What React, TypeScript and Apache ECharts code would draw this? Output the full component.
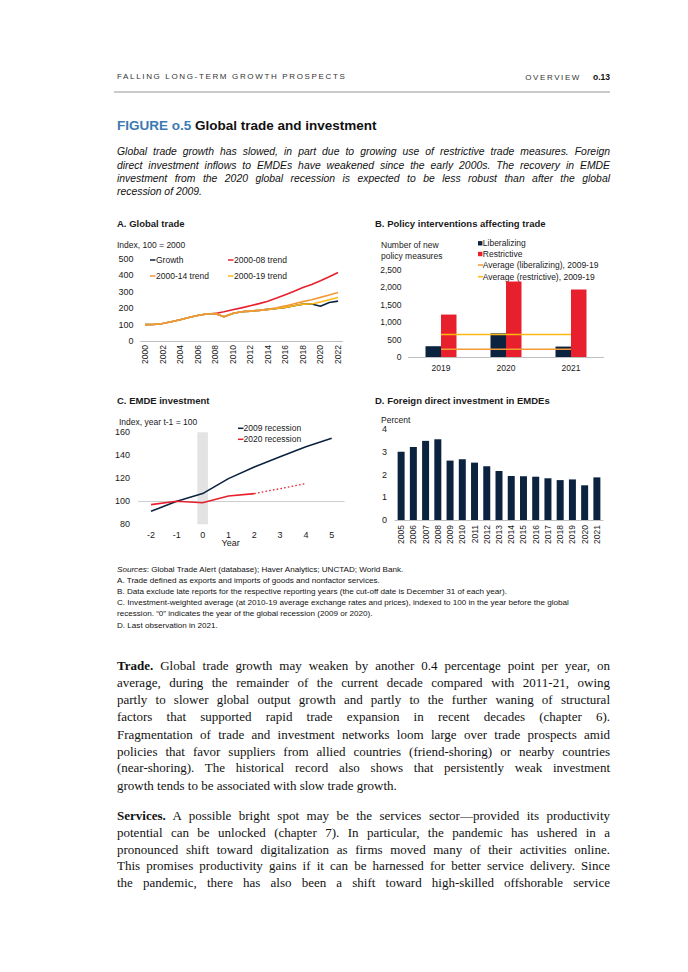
import React, { useEffect, useRef } from "react";
import * as echarts from "echarts";

// ---------- DATA ----------
const yearsA = ["2000","2001","2002","2003","2004","2005","2006","2007","2008","2009","2010","2011","2012","2013","2014","2015","2016","2017","2018","2019","2020","2021","2022"];
const growth = [100,101,107,117,130,143,155,165,168,148,168,178,182,187,193,198,205,215,225,226,212,235,243];
const trend0008 = [null,null,null,null,null,null,null,null,168,178,190,202,215,228,243,262,282,303,326,345,368,392,418];
const trend0014 = [100,101,107,117,130,143,155,165,168,148,168,178,182,187,193,203,214,227,240,252,266,281,296];
const trend0019 = [100,101,107,117,130,143,155,165,168,148,168,178,182,187,193,198,205,215,225,226,238,251,265];

const yearsB = ["2019","2020","2021"];
const liberalizing = [310,680,300];
const restrictive = [1220,2170,1940];
const avgLiberalizing = [220,220,220];
const avgRestrictive = [650,650,650];

const yearsC = ["-2","-1","0","1","2","3","4","5"];
const rec2009 = [91.3,100,106.7,119.7,129.9,138.8,147.5,154.8];
const rec2020 = [97.1,100,98.8,104.6,106.7,null,null,null];
const rec2020f = [null,null,null,null,106.7,111,115.4,null];
const recessionShade = [null,null,160,null,null,null,null,null];

const yearsD = ["2005","2006","2007","2008","2009","2010","2011","2012","2013","2014","2015","2016","2017","2018","2019","2020","2021"];
const fdi = [3.01,3.22,3.49,3.56,2.62,2.68,2.53,2.37,2.16,1.94,1.93,1.91,1.84,1.76,1.79,1.53,1.88];

// ---------- STYLE ----------
const NAVY = "#0c2340";
const RED = "#e8202e";
const ORANGE = "#f39a36";
const YELLOW = "#fdb813";
const AXIS = "#bfbfbf";
const TXT = "#1a1a1a";
const FONT = "Liberation Sans";

function T(x: number, y: number, text: string, size = 8.5, weight = "normal", align = "left") {
  return {
    type: "text",
    x,
    y,
    silent: true,
    style: {
      text,
      fill: TXT,
      fontSize: size,
      fontFamily: FONT,
      fontWeight: weight,
      align,
      textAlign: align,
      verticalAlign: "middle",
      textVerticalAlign: "middle",
    },
  };
}
function Dash(x1: number, x2: number, y: number, color: string) {
  return { type: "line", silent: true, shape: { x1, y1: y, x2, y2: y }, style: { stroke: color, lineWidth: 1.5 } };
}
function Sq(x: number, y: number, color: string) {
  return { type: "rect", silent: true, shape: { x, y: y - 2.2, width: 4.4, height: 4.4 }, style: { fill: color } };
}

const catAxisBase = {
  type: "category",
  boundaryGap: true,
  axisLine: { lineStyle: { color: AXIS, width: 1 } },
  axisTick: { show: false },
};
const valAxisBase = {
  type: "value",
  splitLine: { show: false },
  axisLine: { show: false },
  axisTick: { show: false },
};

const optionA = {
  animation: false,
  textStyle: { fontFamily: FONT },
  grid: { left: 30.6, top: 47, width: 201.8, height: 82 },
  xAxis: { ...catAxisBase, data: yearsA, axisLabel: { rotate: 90, interval: 1, fontSize: 8.5, color: TXT, margin: 4 } },
  yAxis: { ...valAxisBase, min: 0, max: 500, interval: 100, axisLabel: { fontSize: 9, color: TXT, margin: 7 } },
  series: [
    { name: "Growth", type: "line", data: growth, symbol: "none", lineStyle: { color: NAVY, width: 1.6 }, itemStyle: { color: NAVY } },
    { name: "2000-08 trend", type: "line", data: trend0008, symbol: "none", lineStyle: { color: RED, width: 1.6 }, itemStyle: { color: RED } },
    { name: "2000-19 trend", type: "line", data: trend0019, symbol: "none", lineStyle: { color: YELLOW, width: 1.6 }, itemStyle: { color: YELLOW } },
    { name: "2000-14 trend", type: "line", data: trend0014, symbol: "none", lineStyle: { color: ORANGE, width: 1.6 }, itemStyle: { color: ORANGE } },
  ],
  graphic: [
    T(7, 11, "A. Global trade", 9.5, "bold"),
    T(7, 33, "Index, 100 = 2000", 8.5),
    Dash(40, 45.5, 48, NAVY), T(46, 48, "Growth", 8.5),
    Dash(118, 123.5, 48, RED), T(124, 48, "2000-08 trend", 8.5),
    Dash(40, 45.5, 64, ORANGE), T(46, 64, "2000-14 trend", 8.5),
    Dash(118, 123.5, 64, YELLOW), T(124, 64, "2000-19 trend", 8.5),
  ],
};

const optionB = {
  animation: false,
  textStyle: { fontFamily: FONT },
  grid: { left: 43.5, top: 58, width: 195, height: 87 },
  xAxis: { ...catAxisBase, data: yearsB, axisLabel: { fontSize: 8.5, color: TXT, margin: 6 } },
  yAxis: {
    ...valAxisBase, min: 0, max: 2500, interval: 500,
    axisLabel: { fontSize: 8.5, color: TXT, margin: 7, formatter: (v: number) => v.toLocaleString("en-US") },
  },
  series: [
    { name: "Liberalizing", type: "bar", data: liberalizing, barWidth: 15.5, barGap: "0%", itemStyle: { color: NAVY } },
    { name: "Restrictive", type: "bar", data: restrictive, barWidth: 15.5, barGap: "0%", itemStyle: { color: RED } },
    { name: "Average (liberalizing), 2009-19", type: "line", z: 4, data: avgLiberalizing, symbol: "none", lineStyle: { color: ORANGE, width: 1.5 } },
    { name: "Average (restrictive), 2009-19", type: "line", z: 4, data: avgRestrictive, symbol: "none", lineStyle: { color: YELLOW, width: 1.5 } },
  ],
  graphic: [
    T(10, 11, "B. Policy interventions affecting trade", 9.5, "bold"),
    T(16, 33, "Number of new", 8.5),
    T(16, 43.5, "policy measures", 8.5),
    Sq(113, 31.3, NAVY), T(117.8, 31.3, "Liberalizing", 8.5),
    Sq(113, 42, RED), T(117.8, 42, "Restrictive", 8.5),
    Dash(113, 118, 53, ORANGE), T(117.8, 53, "Average (liberalizing), 2009-19", 8.5),
    Dash(113, 118, 64.7, YELLOW), T(117.8, 64.7, "Average (restrictive), 2009-19", 8.5),
  ],
};

const optionC = {
  animation: false,
  textStyle: { fontFamily: FONT },
  grid: { left: 28.1, top: 47.3, width: 206.5, height: 92 },
  xAxis: { ...catAxisBase, data: yearsC, axisLine: { show: false }, axisLabel: { fontSize: 9, color: TXT, margin: 6 } },
  yAxis: { ...valAxisBase, min: 80, max: 160, interval: 20, axisLabel: { fontSize: 9, color: TXT, margin: 8 } },
  series: [
    { name: "Recession year", type: "bar", data: recessionShade, barWidth: 10.6, itemStyle: { color: "#e3e3e3" }, z: 1, silent: true },
    {
      name: "2009 recession", type: "line", data: rec2009, symbol: "none", z: 3, lineStyle: { color: NAVY, width: 1.6 },
      markLine: { silent: true, symbol: "none", label: { show: false }, lineStyle: { color: "#cfcfcf", type: "solid", width: 1 }, data: [{ yAxis: 100 }], z: 2 },
    },
    { name: "2020 recession", type: "line", data: rec2020, symbol: "none", z: 3, lineStyle: { color: RED, width: 1.6 } },
    { name: "2020 recession (forecast)", type: "line", data: rec2020f, symbol: "none", z: 3, lineStyle: { color: RED, width: 1.3, type: [1.6, 2.2] } },
  ],
  graphic: [
    T(7, 15, "C. EMDE investment", 9.5, "bold"),
    T(9, 36.5, "Index, year t-1 = 100", 8.5),
    Dash(128, 133.5, 43.3, NAVY), T(133.5, 43.3, "2009 recession", 8.5),
    Dash(128, 133.5, 54.3, RED), T(133.5, 54.3, "2020 recession", 8.5),
    T(120.7, 158, "Year", 9, "normal", "center"),
  ],
};

const optionD = {
  animation: false,
  textStyle: { fontFamily: FONT },
  grid: { left: 30, top: 44.3, width: 208, height: 90.7 },
  xAxis: { ...catAxisBase, data: yearsD, axisLabel: { rotate: 90, interval: 0, fontSize: 8.5, color: TXT, margin: 5 } },
  yAxis: { ...valAxisBase, min: 0, max: 4, interval: 1, axisLabel: { fontSize: 9, color: TXT, margin: 8 } },
  series: [
    { name: "FDI inflows", type: "bar", data: fdi, barWidth: 7, itemStyle: { color: NAVY } },
  ],
  graphic: [
    T(10, 15, "D. Foreign direct investment in EMDEs", 9.5, "bold"),
    T(16, 35, "Percent", 8.5),
  ],
};

function Chart({ option, left, top, width, height }: any) {
  const ref = useRef<HTMLDivElement>(null);
  useEffect(() => {
    if (!ref.current) return;
    const chart = echarts.init(ref.current, undefined, { renderer: "svg" });
    chart.setOption(option);
    return () => chart.dispose();
  }, [option]);
  return <div ref={ref} style={{ position: "absolute", left, top, width, height }} />;
}

// ---------- TEXT ----------
const subtitleLines = [
  "Global trade growth has slowed, in part due to growing use of restrictive trade measures. Foreign",
  "direct investment inflows to EMDEs have weakened since the early 2000s. The recovery in EMDE",
  "investment from the 2020 global recession is expected to be less robust than after the global",
  "recession of 2009.",
];
const noteLines = [
  "A. Trade defined as exports and imports of goods and nonfactor services.",
  "B. Data exclude late reports for the respective reporting years (the cut-off date is December 31 of each year).",
  "C. Investment-weighted average (at 2010-19 average exchange rates and prices), indexed to 100 in the year before the global",
  "recession. \u201C0\u201D indicates the year of the global recession (2009 or 2020).",
  "D. Last observation in 2021.",
];
const tradeLines = [
  " Global trade growth may weaken by another 0.4 percentage point per year, on",
  "average, during the remainder of the current decade compared with 2011-21, owing",
  "partly to slower global output growth and partly to the further waning of structural",
  "factors that supported rapid trade expansion in recent decades (chapter 6).",
  "Fragmentation of trade and investment networks loom large over trade prospects amid",
  "policies that favor suppliers from allied countries (friend-shoring) or nearby countries",
  "(near-shoring). The historical record also shows that persistently weak investment",
  "growth tends to be associated with slow trade growth.",
];
const tradeY = [665, 682.5, 699.8, 716.8, 734, 751, 767.8, 785];
const servicesLines = [
  " A possible bright spot may be the services sector\u2014provided its productivity",
  "potential can be unlocked (chapter 7). In particular, the pandemic has ushered in a",
  "pronounced shift toward digitalization as firms moved many of their activities online.",
  "This promises productivity gains if it can be harnessed for better service delivery. Since",
  "the pandemic, there has also been a shift toward high-skilled offshorable service",
];
const servicesY = [815, 832, 849, 865.8, 882.5];

const X0 = 117;
const W = 493;

function Line({ y, h, justify, style, children }: any) {
  return (
    <div
      style={{
        position: "absolute",
        left: X0,
        top: y - h / 2,
        width: W,
        height: h,
        lineHeight: h + "px",
        textAlign: justify ? "justify" : "left",
        textAlignLast: justify ? "justify" : "left",
        ...style,
      }}
    >
      {children}
    </div>
  );
}

export default function App() {
  const sans = { fontFamily: FONT, color: "#111" };
  const serif = { fontFamily: "Liberation Serif", fontSize: 13, color: "#111" };
  return (
    <div style={{ position: "absolute", left: 0, top: 0, width: 688, height: 972, background: "#fff", overflow: "hidden" }}>
      {/* header */}
      <div style={{ position: "absolute", left: 117, top: 72, height: 10, lineHeight: "10px", fontFamily: FONT, fontSize: 8, letterSpacing: 1.65, color: "#333", whiteSpace: "nowrap" }}>
        FALLING LONG-TERM GROWTH PROSPECTS
      </div>
      <div style={{ position: "absolute", right: 78, top: 72, height: 10, lineHeight: "10px", fontFamily: FONT, fontSize: 8, color: "#333", whiteSpace: "nowrap" }}>
        <span style={{ letterSpacing: 1.6 }}>OVERVIEW</span>
        <span style={{ display: "inline-block", width: 12 }} />
        <span style={{ fontWeight: "bold", fontSize: 8.5, color: "#111" }}>o.13</span>
      </div>
      <div style={{ position: "absolute", left: 114, top: 90.8, width: 496, height: 2.4, background: "#cbcbcb" }} />

      {/* title */}
      <div style={{ position: "absolute", left: 117, top: 118, height: 16, lineHeight: "16px", fontFamily: FONT, fontSize: 13.5, fontWeight: "bold", color: "#111", whiteSpace: "nowrap" }}>
        <span style={{ color: "#3c7ab3" }}>FIGURE o.5</span> Global trade and investment
      </div>

      {/* subtitle */}
      {subtitleLines.map((s, i) => (
        <Line key={"s" + i} y={151.7 + i * 13.33} h={13} justify={i < 3} style={{ ...sans, fontSize: 10.4, fontStyle: "italic" }}>
          {s}
        </Line>
      ))}

      <Chart option={optionA} left={110} top={212} width={250} height={165} />
      <Chart option={optionB} left={365} top={212} width={250} height={165} />
      <Chart option={optionC} left={110} top={385} width={250} height={165} />
      <Chart option={optionD} left={365} top={385} width={250} height={165} />

      {/* notes */}
      <Line y={569} h={11} style={{ ...sans, fontSize: 8.1, whiteSpace: "nowrap" }}>
        <i>Sources</i>: Global Trade Alert (database); Haver Analytics; UNCTAD; World Bank.
      </Line>
      {noteLines.map((s, i) => (
        <Line key={"n" + i} y={580.2 + i * 11.2} h={11} style={{ ...sans, fontSize: 8.1, whiteSpace: "nowrap" }}>
          {s}
        </Line>
      ))}

      {/* body */}
      {tradeLines.map((s, i) => (
        <Line key={"t" + i} y={tradeY[i]} h={17} justify={i < 7} style={serif}>
          {i === 0 ? <b>Trade.</b> : null}
          {s}
        </Line>
      ))}
      {servicesLines.map((s, i) => (
        <Line key={"v" + i} y={servicesY[i]} h={17} justify={true} style={serif}>
          {i === 0 ? <b>Services.</b> : null}
          {s}
        </Line>
      ))}
    </div>
  );
}
